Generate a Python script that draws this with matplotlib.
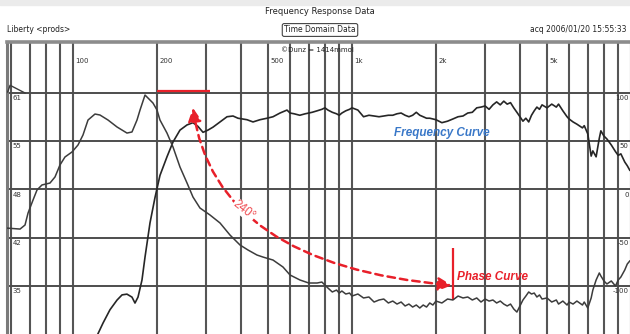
import matplotlib
matplotlib.use('Agg')
import matplotlib.pyplot as plt
from matplotlib.patches import Rectangle

# SPL curve (dB)
freq_hz = [120.9, 128.1, 135.7, 143.8, 149.9, 156.1, 162.7, 166.8, 171.0, 176.7,
           181.2, 188.8, 196.7, 205.0, 217.2, 228.3, 241.8, 256.3, 269.2, 280.5,
           292.4, 304.6, 317.6, 336.5, 356.5, 374.6, 390.3, 420.4, 441.8, 468.0,
           495.9, 521.1, 552.0, 584.8,
           600, 620, 650, 680, 700, 720, 750, 780, 800, 820, 850, 880, 900, 920, 950, 980,
           1000, 1050, 1100, 1150, 1200, 1250, 1300, 1350, 1400, 1450, 1500, 1550, 1600,
           1650, 1700, 1750, 1800, 1850, 1900, 1950, 2000, 2100, 2200, 2300, 2400, 2500,
           2600, 2700, 2800, 2900, 3000, 3100, 3200, 3300, 3400, 3500, 3600, 3700, 3800,
           3900, 4000, 4100, 4200, 4300, 4400, 4500, 4600, 4700, 4800, 5000, 5200, 5400,
           5500, 5700, 5900, 6000, 6200, 6400, 6700, 6800, 7000, 7200, 7300, 7500, 7700,
           7800, 8000, 8200, 8500, 8800, 9000, 9200, 9500, 9700, 9900]
freq_db = [28.0, 30.0, 31.8, 33.1, 33.8, 33.9, 33.5, 32.7, 33.5, 35.8,
           38.9, 43.5, 46.9, 49.9, 52.4, 54.4, 56.0, 56.7, 57.0, 56.5,
           55.7, 56.0, 56.4, 57.1, 57.8, 57.9, 57.6, 57.4, 57.1, 57.4,
           57.6, 57.8, 58.3, 58.7,
           58.3, 58.2, 58.0, 58.2, 58.3, 58.4, 58.6, 58.8, 59.0, 58.7, 58.4, 58.2, 58.0, 58.3, 58.6, 58.8,
           59.0, 58.7, 57.8, 58.0, 57.9, 57.8, 57.9, 58.0, 58.0, 58.2, 58.3, 58.0, 57.8,
           58.0, 58.4, 58.0, 57.8, 57.6, 57.6, 57.5, 57.4, 57.0, 57.2, 57.5, 57.8, 57.9,
           58.3, 58.4, 59.0, 59.1, 59.25, 58.8, 59.4, 59.8, 59.4, 59.9, 59.5, 59.7, 59.0,
           58.4, 57.8, 57.2, 57.6, 57.1, 58.0, 58.6, 59.1, 58.8, 59.4, 59.0, 59.5, 59.1,
           59.5, 58.6, 57.8, 57.5, 57.1, 56.8, 56.3, 56.6, 55.5, 52.5, 53.2, 52.4, 54.9,
           55.9, 55.2, 54.8, 54.0, 53.1, 52.6, 52.8, 51.7, 51.2, 50.6]

# phase curve (degrees)
phase_hz = [58.0, 64.6, 67.3, 69.0, 71.9, 74.3, 77.4, 82.7, 86.2, 89.8,
            93.6, 99.2, 104.2, 108.6, 113.2, 119.9, 124.9, 133.5, 143.8, 156.1,
            162.7, 169.6, 173.9, 181.2, 193.5, 200, 205.0, 217.2, 228.3, 241.8,
            256.3, 269.2, 285.2, 309.7, 336.5, 365.4, 396.8, 423.9, 456.5, 479.7,
            521.1, 565.7, 599.7, 651.2,
            700, 750, 780, 800, 820, 850, 880, 900, 920, 950, 980,
            1000, 1050, 1100, 1150, 1200, 1250, 1300, 1350, 1400, 1450, 1500, 1550, 1600,
            1650, 1700, 1750, 1800, 1850, 1900, 1950, 2000, 2100, 2200, 2300, 2400, 2500,
            2600, 2700, 2800, 2900, 3000, 3100, 3200, 3300, 3400, 3500, 3600, 3700, 3800,
            3900, 4000, 4100, 4200, 4300, 4400, 4500, 4600, 4700, 4800, 5000, 5200, 5400,
            5500, 5700, 5900, 6000, 6200, 6400, 6700, 6800, 7000, 7200, 7300, 7500, 7700,
            7800, 8000, 8200, 8500, 8800, 9000, 9200, 9500, 9700, 9900]
phase_deg = [-40, -41, -36.8, -24.4, -10.9, -0.5, 4.7, 6.7, 13.0, 25.4,
             33.7, 38.9, 46.1, 56.5, 72.0, 78.2, 77.2, 72.0, 64.8, 58.5,
             59.6, 72.0, 82.4, 97.9, 89.6, 82.4, 72.0, 58.5, 44.0, 23.3,
             6.7, -7.8, -19.2, -26.4, -34.7, -47.2, -57.5, -62.7, -67.9, -70.0,
             -73.1, -80.3, -88.6, -93.8,
             -96.9, -96.9, -95.9, -99.0, -102.1, -106.2, -104.2, -107.3, -105.2, -108.3, -107.3,
             -110.4, -108.3, -112.4, -111.4, -116.6, -114.5, -113.5, -117.6, -115.6, -118.7, -116.6, -120.7, -118.7,
             -121.8, -119.7, -122.8, -119.7, -121.8, -117.6, -119.7, -115.6, -117.6, -113.5, -114.5, -110.4, -112.4,
             -111.4, -114.5, -112.4, -116.6, -113.5, -115.6, -114.5, -117.6, -115.6, -118.7, -120.7, -118.7, -123.8,
             -127.0, -120.7, -114.5, -110.4, -106.2, -108.3, -107.3, -111.4, -109.3, -113.5, -112.4, -116.6, -114.5,
             -118.7, -115.6, -119.7, -116.6, -118.7, -115.6, -119.7, -116.6, -122.8, -112.4, -104.2, -93.8, -86.5,
             -89.6, -94.8, -97.9, -94.8, -100.0, -93.8, -90.7, -83.4, -77.2, -74.1]

# small wrapped bit of phase at the top left
wrap_hz = [58.3, 59.5, 67.3]
wrap_deg = [101, 108, 100]

db_grid = [61, 54.5, 48, 41.5, 35]
db_labels = ['61', '55', '48', '42', '35']
phase_grid = [100, 50, 0, -50, -100]
phase_labels = ['100', '50', '0', '-50', '-100']
x_grid = [60, 70, 80, 90, 100, 200, 300, 400, 500, 600, 700, 800, 900, 1000,
          2000, 3000, 4000, 5000, 6000, 7000, 8000, 9000, 10000]
x_label_at = [100, 200, 500, 1000, 2000, 5000]
x_labels = ['100', '200', '500', '1k', '2k', '5k']

RED = '#e8202a'

fig = plt.figure(figsize=(6.3, 3.34), dpi=100)
fig.patches.append(Rectangle((0, 1 - 5 / 334), 1, 5 / 334, transform=fig.transFigure,
                             color='#ebebeb', zorder=0))

ax = fig.add_axes([7 / 630, 0, 623 / 630, 292 / 334])
ax.set_xscale('log')
ax.set_xlim(58, 9920)
ax.set_ylim(28.53, 67.87)
ph = ax.twinx()
ph.set_ylim(-149.74, 152.85)

for a in (ax, ph):
    a.tick_params(axis='both', which='both', length=0, labelbottom=False,
                  labelleft=False, labelright=False)
    for s in a.spines.values():
        s.set_visible(False)
ax.spines['left'].set_visible(True)
ax.spines['left'].set_color('#7a7a7a')
ax.spines['left'].set_linewidth(2.2)
ax.spines['top'].set_visible(True)
ax.spines['top'].set_color('#8c8c8c')
ax.spines['top'].set_linewidth(2.6)

for v in x_grid:
    ax.axvline(v, color='#555555', lw=1.5, zorder=1)
for v in db_grid:
    ax.axhline(v, color='#4d4d4d', lw=1.4, zorder=1)

for v, lbl in zip(db_grid, db_labels):
    ax.annotate(lbl, xy=(0, v), xycoords=ax.get_yaxis_transform(), xytext=(4, -1.5),
                textcoords='offset points', ha='left', va='top', fontsize=5, color='#333333')
for v, lbl in zip(phase_grid, phase_labels):
    ph.annotate(lbl, xy=(1, v), xycoords=ph.get_yaxis_transform(), xytext=(-1, -1.5),
                textcoords='offset points', ha='right', va='top', fontsize=5, color='#333333')
for f, lbl in zip(x_label_at, x_labels):
    ax.annotate(lbl, xy=(f, 1), xycoords=ax.get_xaxis_transform(), xytext=(1.5, -14),
                textcoords='offset points', ha='left', va='center', fontsize=5, color='#333333')

ax.plot(freq_hz, freq_db, color='#262626', lw=1.2, zorder=3)
ph.plot(phase_hz, phase_deg, color='#3c3c3c', lw=1.1, zorder=3)
ph.plot(wrap_hz, wrap_deg, color='#3c3c3c', lw=1.0, zorder=3)

# header
fig.text(320 / 630, 1 - 12 / 334, 'Frequency Response Data', ha='center', va='center',
         fontsize=6, color='#222222')
fig.text(7 / 630, 1 - 29 / 334, 'Liberty <prods>', ha='left', va='center',
         fontsize=5.5, color='#222222')
fig.text(320 / 630, 1 - 30 / 334, 'Time Domain Data', ha='center', va='center',
         fontsize=5.5, color='#222222',
         bbox=dict(boxstyle='round,pad=0.25', fc='white', ec='#444444', lw=0.8))
fig.text(627 / 630, 1 - 30 / 334, 'acq 2006/01/20 15:55:33', ha='right', va='center',
         fontsize=5.5, color='#222222')
fig.text(317 / 630, 1 - 50 / 334, '\u00a9Dunz = 1414mmol', ha='center', va='center',
         fontsize=5, color='#222222')

# annotations
ax.plot([200, 310], [61.3, 61.3], color=RED, lw=1.6, zorder=4, solid_capstyle='butt')
ax.plot([2300, 2300], [40.1, 33.1], color=RED, lw=1.6, zorder=4, solid_capstyle='butt')
ax.annotate('', xy=(2280, 35.1), xytext=(269, 59.0),
            arrowprops=dict(arrowstyle='<|-|>,head_length=0.8,head_width=0.4', color=RED,
                            lw=1.8, linestyle=(0, (3, 2)), shrinkA=0, shrinkB=0,
                            mutation_scale=10,
                            connectionstyle='angle3,angleA=-82,angleB=-5'),
            zorder=4)
ax.text(410, 45.2, '240\u00b0', rotation=-38, ha='center', va='center', fontsize=8.5,
        color='#ee4b50', family='Liberation Sans', zorder=5,
        bbox=dict(boxstyle='square,pad=0.05', fc='white', ec='none'))
ax.text(2100, 55.6, 'Frequency Curve', ha='center', va='center', fontsize=8.5,
        color='#3a78c8', family='Liberation Sans', weight='bold', style='italic', zorder=5)
ax.text(2380, 36.2, 'Phase Curve', ha='left', va='center', fontsize=8.5,
        color=RED, family='Liberation Sans', weight='bold', style='italic', zorder=5)

fig.savefig('out.png', dpi=100)
